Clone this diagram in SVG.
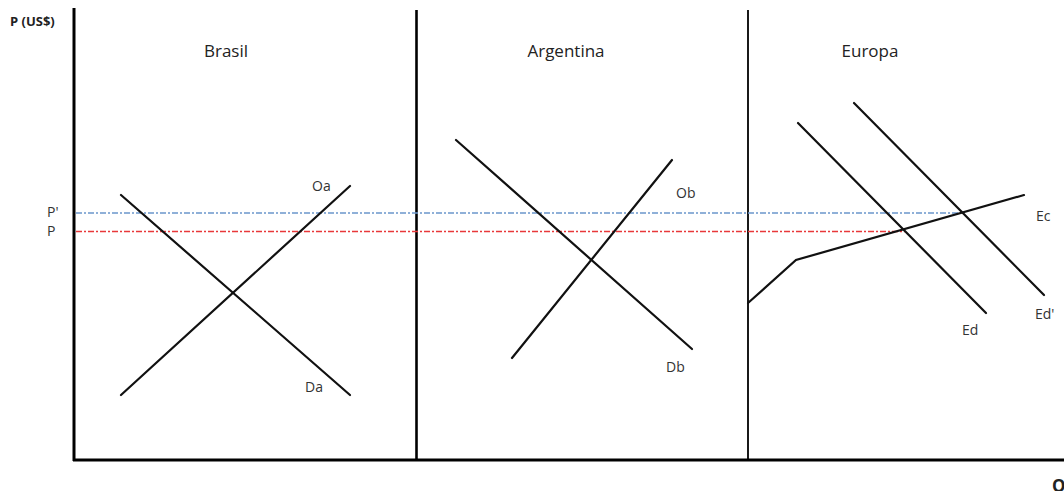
<svg xmlns="http://www.w3.org/2000/svg" width="1064" height="491" viewBox="0 0 1064 491">
<style>
text{font-family:"Open Sans","Liberation Sans",sans-serif;fill:#222}
.t{font-size:17px}
.l{font-size:14px;fill:#333}
.c{stroke:#111;stroke-width:2.2;fill:none;stroke-linecap:round}
.ax{stroke:#000;fill:none}
</style>
<rect width="1064" height="491" fill="#fff"/>
<g id="axes">
<line class="ax" x1="74" y1="8" x2="74" y2="461" stroke-width="3"/>
<line class="ax" x1="73" y1="460" x2="1064" y2="460" stroke-width="3"/>
<line class="ax" x1="416.5" y1="10" x2="416.5" y2="460" stroke-width="2.6"/>
<line class="ax" x1="748" y1="10" x2="748" y2="460" stroke-width="1.8"/>
<text x="10" y="26" font-size="13" font-weight="bold">P (US$)</text>
<text x="1052" y="492" font-size="17" font-weight="bold">Q</text>
<text x="47" y="217" class="l">P'</text>
<text x="47" y="236" class="l">P</text>
</g>
<g id="price-lines">
<line x1="76" y1="213" x2="960" y2="213" stroke="#6b96cc" stroke-width="1.5" stroke-dasharray="6,2,2,2"/>
<line x1="76" y1="231.5" x2="905" y2="231.5" stroke="#e8383a" stroke-width="1.5" stroke-dasharray="6,2,2,2"/>
</g>
<g id="brasil">
<text x="226" y="57" class="t" text-anchor="middle">Brasil</text>
<text x="312" y="191" class="l">Oa</text>
<text x="305" y="392" class="l">Da</text>
</g>
<g id="argentina">
<text x="566" y="57" class="t" text-anchor="middle">Argentina</text>
<text x="676" y="198" class="l">Ob</text>
<text x="666" y="372" class="l">Db</text>
</g>
<g id="europa">
<text x="870" y="57" class="t" text-anchor="middle">Europa</text>
<text x="1036" y="221" class="l">Ec</text>
<text x="962" y="335" class="l">Ed</text>
<text x="1035" y="319" class="l">Ed'</text>
</g>
<g id="connectors">
<line class="c" x1="121" y1="395" x2="350" y2="186"/>
<line class="c" x1="121" y1="195" x2="350" y2="395"/>
<line class="c" x1="456" y1="140" x2="692" y2="349"/>
<line class="c" x1="512" y1="358" x2="672" y2="160"/>
<polyline class="c" points="748,303 796,260 1024,195"/>
<line class="c" x1="798" y1="123" x2="986" y2="313"/>
<line class="c" x1="854" y1="103" x2="1044" y2="295"/>
</g>
</svg>
